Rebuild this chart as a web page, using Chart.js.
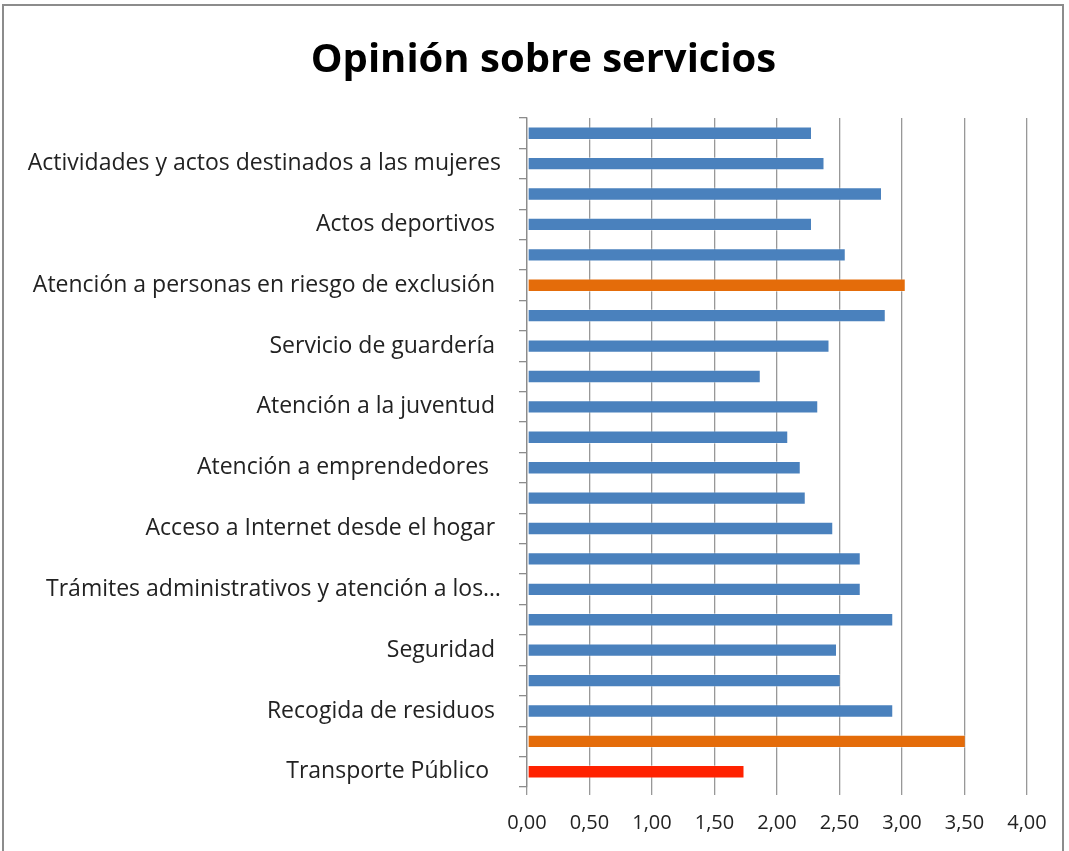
<!DOCTYPE html>
<html lang="es">
<head>
<meta charset="utf-8">
<title>Opinión sobre servicios</title>
<script src="https://cdn.jsdelivr.net/npm/chart.js@4"></script>
<style>
  html, body { margin: 0; padding: 0; background: #fff; }
  .wrap { position: relative; width: 1069px; height: 851px; overflow: hidden; }
  .frame {
    position: absolute; left: 2px; top: 4px; width: 1062px; height: 900px;
    border: 2px solid #8c8c8c; box-sizing: border-box; pointer-events: none;
  }
  canvas { position: absolute; left: 0; top: 0; }
</style>
</head>
<body>
<div class="wrap">
  <canvas id="chart" width="1069" height="851"></canvas>
  <div class="frame"></div>
</div>
<script>
/* ===== Datos (de arriba a abajo) ===== */
// Solo se leen en el gráfico las etiquetas alternas; las demás quedan vacías
const categories = [
  '',
  'Actividades y actos destinados a las mujeres',
  '',
  'Actos deportivos ',
  '',
  'Atención a personas en riesgo de exclusión ',
  '',
  'Servicio de guardería ',
  '',
  'Atención a la juventud ',
  '',
  'Atención a emprendedores  ',
  '',
  'Acceso a Internet desde el hogar ',
  '',
  'Trámites administrativos y atención a los…',
  '',
  'Seguridad ',
  '',
  'Recogida de residuos ',
  '',
  'Transporte Público  '
];

const valores = [
  2.28, 2.38, 2.84, 2.28, 2.55, 3.03, 2.87, 2.42, 1.87, 2.33, 2.09,
  2.19, 2.23, 2.45, 2.67, 2.67, 2.93, 2.48, 2.51, 2.93, 3.51, 1.74
];

const xTicks = [0, 0.5, 1, 1.5, 2, 2.5, 3, 3.5, 4];

/* ===== Colores ===== */
const AZUL = '#4a81bd';
const NARANJA = '#e46c0a';
const ROJO = '#ff2200';
const destacados = { 5: NARANJA, 20: NARANJA, 21: ROJO };
const barColors = valores.map((_, i) => destacados[i] || AZUL);

const FONT = "'Open Sans', 'Noto Sans', sans-serif";

// El título del original está algo desplazado a la derecha
const titleShift = {
  id: 'titleShift',
  afterLayout(chart) {
    chart.titleBlock.left += 30;
    chart.titleBlock.right += 30;
  }
};

new Chart(document.getElementById('chart'), {
  type: 'bar',
  data: {
    labels: categories,
    datasets: [{
      data: valores,
      backgroundColor: barColors,
      borderColor: 'rgba(255, 255, 255, 0.35)',
      borderWidth: 1,
      borderSkipped: false,
      barPercentage: 0.44,
      categoryPercentage: 1,
    }]
  },
  plugins: [titleShift],
  options: {
    indexAxis: 'y',
    responsive: false,
    animation: false,
    layout: { padding: { top: 0, right: 42, bottom: 0, left: 0 } },
    plugins: {
      legend: { display: false },
      tooltip: { enabled: false },
      title: {
        display: true,
        text: 'Opinión sobre servicios',
        color: '#000',
        font: { family: FONT, size: 40, weight: 'bold' },
        padding: { top: 37, bottom: 33 },
      }
    },
    scales: {
      x: {
        min: 0,
        max: 4,
        afterBuildTicks: (scale) => {
          scale.ticks = xTicks.map(v => ({ value: v }));
        },
        afterFit: (scale) => { scale.height = 64; },
        border: { display: false },
        grid: {
          color: '#989898',
          lineWidth: 1.3,
          drawTicks: true,
          tickLength: 8,
        },
        ticks: {
          color: '#222',
          padding: 16,
          font: { family: FONT, size: 20 },
          callback: (v) => Number(v).toFixed(2).replace('.', ','),
        }
      },
      y: {
        afterFit: (scale) => { scale.width = 527; },
        border: { display: true, color: '#8c8c8c', width: 1.3 },
        grid: {
          offset: true,
          drawOnChartArea: false,
          color: '#8c8c8c',
          lineWidth: 1.3,
          tickLength: 8,
        },
        ticks: {
          autoSkip: false,
          color: '#222',
          padding: 18,
          font: { family: FONT, size: 23 },
        }
      }
    }
  }
});
</script>
</body>
</html>
